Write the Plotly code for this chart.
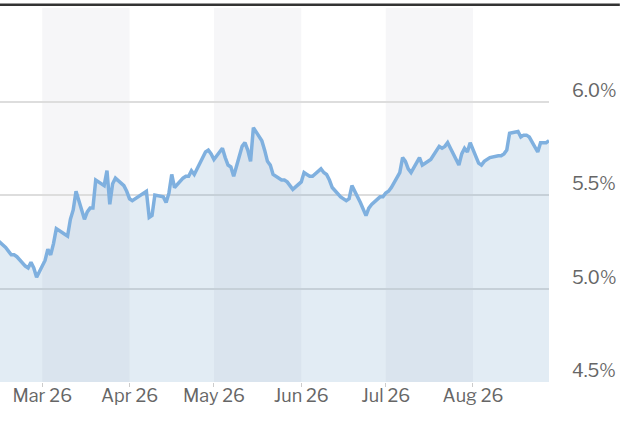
import pandas as pd
import plotly.graph_objects as go

# Daily rate readings, business days from Feb 13 to Aug 28 (one row per week)
rates = [
    5.26,
    5.22, 5.20, 5.18, 5.18, 5.17,
    5.12, 5.11, 5.14, 5.11, 5.06,
    5.15, 5.21, 5.18, 5.24, 5.32,
    5.29, 5.28, 5.37, 5.42, 5.52,
    5.37, 5.41, 5.43, 5.43, 5.58,
    5.55, 5.63, 5.45, 5.56, 5.59,
    5.55, 5.52, 5.48, 5.47, 5.48,
    5.51, 5.52, 5.38, 5.39, 5.50,
    5.49, 5.46, 5.51, 5.61, 5.54,
    5.59, 5.60, 5.60, 5.63, 5.61,
    5.70, 5.73, 5.74, 5.72, 5.69,
    5.75, 5.70, 5.66, 5.65, 5.60,
    5.76, 5.78, 5.74, 5.68, 5.86,
    5.79, 5.74, 5.68, 5.66, 5.61,
    5.58, 5.58, 5.57, 5.55, 5.53,
    5.57, 5.62, 5.61, 5.60, 5.60,
    5.64, 5.62, 5.61, 5.58, 5.54,
    5.49, 5.48, 5.47, 5.48, 5.55,
    5.46, 5.42, 5.39, 5.43, 5.45,
    5.49, 5.49, 5.51, 5.52, 5.54,
    5.62, 5.70, 5.68, 5.64, 5.62,
    5.70, 5.66, 5.67, 5.68, 5.69,
    5.76, 5.75, 5.76, 5.78, 5.75,
    5.66, 5.72, 5.75, 5.73, 5.78,
    5.67, 5.66, 5.68, 5.69, 5.70,
    5.71, 5.71, 5.72, 5.74, 5.83,
    5.84, 5.81, 5.82, 5.82, 5.81,
    5.73, 5.78, 5.78, 5.78, 5.79,
]
dates = pd.bdate_range("2026-02-13", "2026-08-28")
assert len(dates) == len(rates)

month_ticks = ["2026-03-01", "2026-04-01", "2026-05-01", "2026-06-01", "2026-07-01", "2026-08-01"]
shaded_months = [("2026-03-01", "2026-04-01"), ("2026-05-01", "2026-06-01"), ("2026-07-01", "2026-08-01")]
y_ticks = [4.5, 5.0, 5.5, 6.0]
y_labels = ["4.5%", "5.0%", "5.5%", "6.0%"]

figure = go.Figure(go.Scatter(x=dates, y=rates, mode="lines",
                              line=dict(color="#7fb0df", width=3.5),
                              fill="tozeroy", fillcolor="rgba(110,160,200,0.2)",
                              hoverinfo="skip"))

# light grey band for every other month
for start, end in shaded_months:
    figure.add_shape(type="rect", xref="x", yref="y", x0=start, x1=end, y0=4.5, y1=6.5,
                     fillcolor="#f6f6f8", line_width=0, layer="below")

# black rule over the top of the chart
figure.add_shape(type="line", xref="paper", yref="paper", layer="above",
                 x0=0, x1=1.129, y0=1.009, y1=1.009,
                 line=dict(color="#333333", width=2.5))

figure.update_layout(
    width=634, height=432,
    margin=dict(l=0, r=85, t=8, b=50),
    plot_bgcolor="white", paper_bgcolor="white",
    showlegend=False,
    font=dict(family="Libre Franklin, Liberation Sans, Arial", size=18, color="#666666"),
)
figure.update_xaxes(range=["2026-02-14", "2026-08-28"], tickvals=month_ticks, tickformat="%b %y",
                    showgrid=False, zeroline=False, showline=False,
                    ticks="outside", ticklen=4, tickcolor="#cccccc", ticklabelstandoff=-7)
figure.update_yaxes(range=[4.5, 6.5], side="right", tickvals=y_ticks, ticktext=y_labels,
                    showgrid=True, gridcolor="#dddddd", gridwidth=1.5, zeroline=False, showline=False,
                    ticklabelshift=-11, ticklabelstandoff=22)

# page body has an 8px default margin, drop it so the chart sits at the corner
figure.write_html("out.html", config={"displayModeBar": False},
                  post_script="document.body.style.margin='0';")
